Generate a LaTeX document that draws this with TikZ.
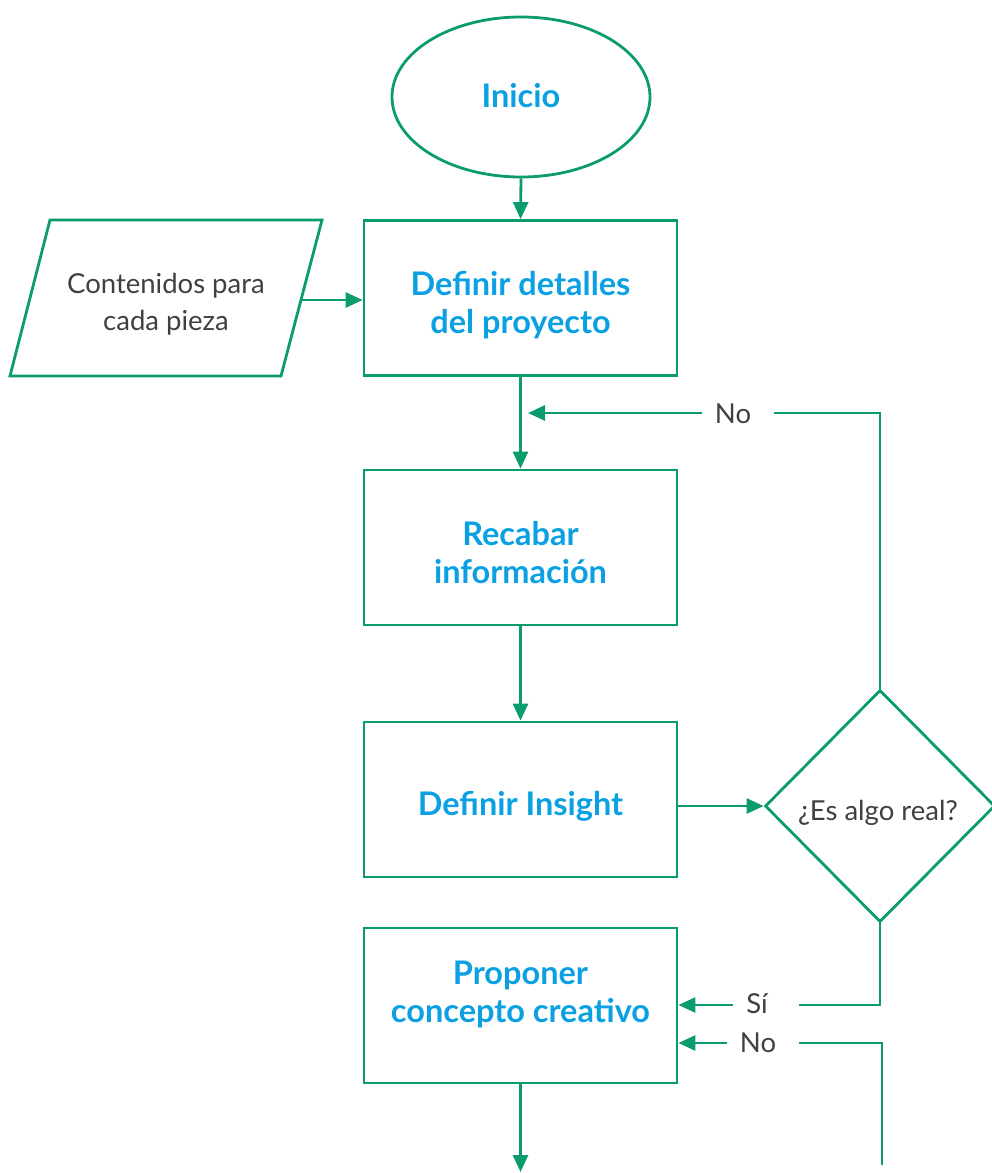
\documentclass[tikz,border=0pt]{standalone}
\usepackage{fontspec}
\setmainfont{Lato}
\usetikzlibrary{shapes.geometric,arrows.meta}
\definecolor{flowgreen}{HTML}{0A9C6F}
\definecolor{flowblue}{HTML}{0AA0E2}
\definecolor{flowgray}{HTML}{404040}
\begin{document}
\begin{tikzpicture}[x=1pt,y=-1pt,
  line width=2.8pt,
  conn/.style={draw=flowgreen,line width=2.8pt,-{Triangle[length=17pt,width=15pt]}},
  wire/.style={draw=flowgreen,line width=2.8pt},
  procbox/.style={draw=flowgreen,line width=2.8pt,rectangle,minimum width=313pt,minimum height=155pt},
  startnode/.style={draw=flowgreen,line width=2.8pt,ellipse,minimum width=258pt,minimum height=160pt},
  decision/.style={draw=flowgreen,line width=2.8pt,diamond,minimum width=230pt,minimum height=232pt,inner sep=0pt},
  % text nodes are placed by the baseline of their last line
  steptext/.style={anchor=base,align=center,text=flowblue,inner sep=0pt,
    font=\fontsize{32.5}{38}\selectfont\bfseries},
  plain/.style={anchor=base,align=center,text=flowgray,inner sep=0pt,
    font=\fontsize{27.5}{37}\selectfont},
  lbl/.style={anchor=base,text=flowgray,font=\fontsize{27.5}{30}\selectfont,inner xsep=12pt,inner ysep=0pt}]
\useasboundingbox (0,0) rectangle (992,1173);

% start
\node[startnode] (start) at (521,97) {};
\node[steptext] (startTxt) at (521,107) {Inicio};

% process steps
\node[procbox] (detalles) at (520.5,298) {};
\node[steptext] (detallesTxt) at (520.5,333) {Definir detalles\\del proyecto};
\node[procbox] (recabar) at (520.5,547.5) {};
\node[steptext] (recabarTxt) at (520.5,583) {Recabar\\información};
\node[procbox] (insight) at (520.5,799.5) {};
\node[steptext] (insightTxt) at (520.5,815) {Definir Insight};
\node[procbox] (concepto) at (520.5,1005.5) {};
\node[steptext] (conceptoTxt) at (520.5,1022) {Proponer\\concepto creativo};

% input (parallelogram)
\draw[wire,line join=miter] (50,220) -- (322,220) -- (281,376) -- (10,376) -- cycle;
\node[plain] (contenidos) at (166,330) {Contenidos para\\cada pieza};
\coordinate (contR) at (301,300);

% decision
\node[decision] (real) at (880,806) {};
\node[plain] (realTxt) at (878,820) {¿Es algo real?};

% main flow
\draw[conn] (start.south) -- (detalles.north);
\draw[conn] (contR) -- (contR -| detalles.west);
\draw[conn] (detalles.south) -- (recabar.north);
\draw[conn] (recabar.south) -- (insight.north);
\draw[conn] (real.west -| insight.east) -- (real.west);
\coordinate (bottomEnd) at (520.5,1172);
\draw[conn] (concepto.south) -- (bottomEnd);

% loop back: No
\node[lbl] (no1) at (733,423) {No};
\coordinate (joinA) at (528,413);
\draw[wire] (real.north) |- ([xshift=10pt]no1.east |- joinA);
\draw[conn] (no1.west |- joinA) -- (joinA);

% yes branch
\node[lbl] (si) at (757,1013) {Sí};
\coordinate (joinS) at (880,1005);
\draw[wire] (real.south) -- (joinS) -- ([xshift=18pt]si.east |- joinS);
\draw[conn] (si.west |- joinS) -- (joinS -| concepto.east);

% second No branch
\node[lbl] (no2) at (758,1052) {No};
\coordinate (no2start) at (882,1165);
\coordinate (joinN) at (882,1043);
\draw[wire] (no2start) -- (joinN) -- ([xshift=10pt]no2.east |- joinN);
\draw[conn] (no2.west |- joinN) -- (joinN -| concepto.east);
\end{tikzpicture}
\end{document}
